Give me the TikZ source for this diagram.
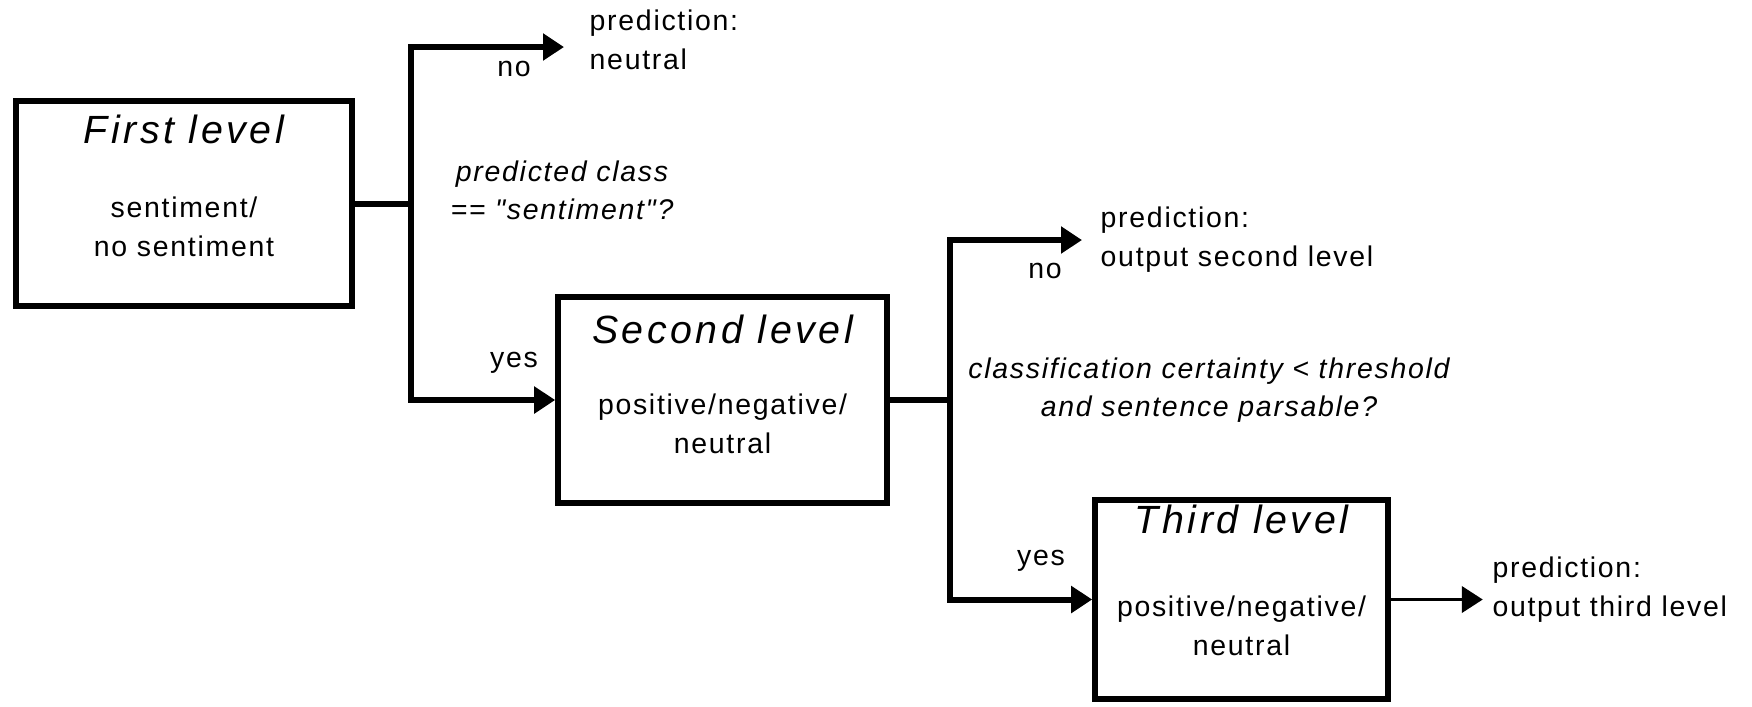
\documentclass[tikz,border=0pt]{standalone}
\usepackage{fontspec}
\setmainfont{Liberation Sans}[LetterSpace=6, Ligatures=TeXOff]
\usetikzlibrary{positioning,arrows.meta}

\tikzset{
    box/.style={draw, line width=1.6pt, inner sep=0pt},
    title/.style={font=\fontsize{11.2}{13}\selectfont\itshape\addfontfeature{LetterSpace=9}, inner sep=0pt},
    body/.style={font=\fontsize{8.1}{11.1}\selectfont, align=center, inner sep=0pt},
    pred/.style={body, align=left},
    cond/.style={body, font=\fontsize{8.1}{10.8}\selectfont\itshape},
    line/.style={line width=1.7pt},
    flow/.style={line, -{Triangle[length=0.21cm,width=0.26cm]}},
}

\begin{document}
\begin{tikzpicture}
        \useasboundingbox (0,0) rectangle (17.52,-7.06);
        \node [box, minimum width=3.36cm, minimum height=2.05cm] (first_level) at (1.84,-2.035) {};
        \node [box, minimum width=3.29cm, minimum height=2.06cm] (second_level) at (7.225,-4.00) {};
        \node [box, minimum width=2.93cm, minimum height=1.99cm] (third_level) at (12.415,-5.995) {};
        \node [title] (first_title) at ([yshift=-0.31cm]first_level.north) {First level};
        \node [body] (first_text) at ([yshift=-1.285cm]first_level.north) {sentiment/\\no sentiment};
        \node [title] (second_title) at ([yshift=-0.35cm]second_level.north) {Second level};
        \node [body] (second_text) at ([yshift=-1.30cm]second_level.north) {positive/negative/\\neutral};
        \node [title] (third_title) at ([yshift=-0.22cm]third_level.north) {Third level};
        \node [body] (third_text) at ([yshift=-1.29cm]third_level.north) {positive/negative/\\neutral};

        \coordinate [right=0.56 of first_level.east] (fork_one);
        \coordinate (tip_neutral) at (5.64,-0.47);
        \draw [line] (first_level.east) -- (fork_one);
        \draw [flow] (fork_one) |- (tip_neutral);
        \draw [flow] (fork_one) |- (second_level.west);
        \node [pred, right=0.25 of tip_neutral, yshift=0.07cm] (pred_neutral) {prediction:\\neutral};
        \node [body] (no_one) at (5.14,-0.69) {no};
        \node [cond] (cond_one) at (5.62,-1.90) {predicted class\\== "sentiment"?};
        \node [body] (yes_one) at (5.14,-3.63) {yes};

        \coordinate [right=0.60 of second_level.east] (fork_two);
        \coordinate (tip_second) at (10.82,-2.40);
        \draw [line] (second_level.east) -- (fork_two);
        \draw [flow] (fork_two) |- (tip_second);
        \draw [flow] (fork_two) |- (third_level.west);
        \node [pred, right=0.18 of tip_second] (pred_second) {prediction:\\output second level};
        \node [body] (no_two) at (10.45,-2.71) {no};
        \node [cond] (cond_two) at (12.09,-3.90) {classification certainty < threshold\\and sentence parsable?};
        \node [body] (yes_two) at (10.41,-5.61) {yes};

        \coordinate [right=0.92 of third_level.east] (tip_third);
        \draw [flow, line width=1.1pt] (third_level.east) -- (tip_third);
        \node [pred, right=0.09 of tip_third, yshift=0.1cm] (pred_third) {prediction:\\output third level};
    \end{tikzpicture}
\end{document}
